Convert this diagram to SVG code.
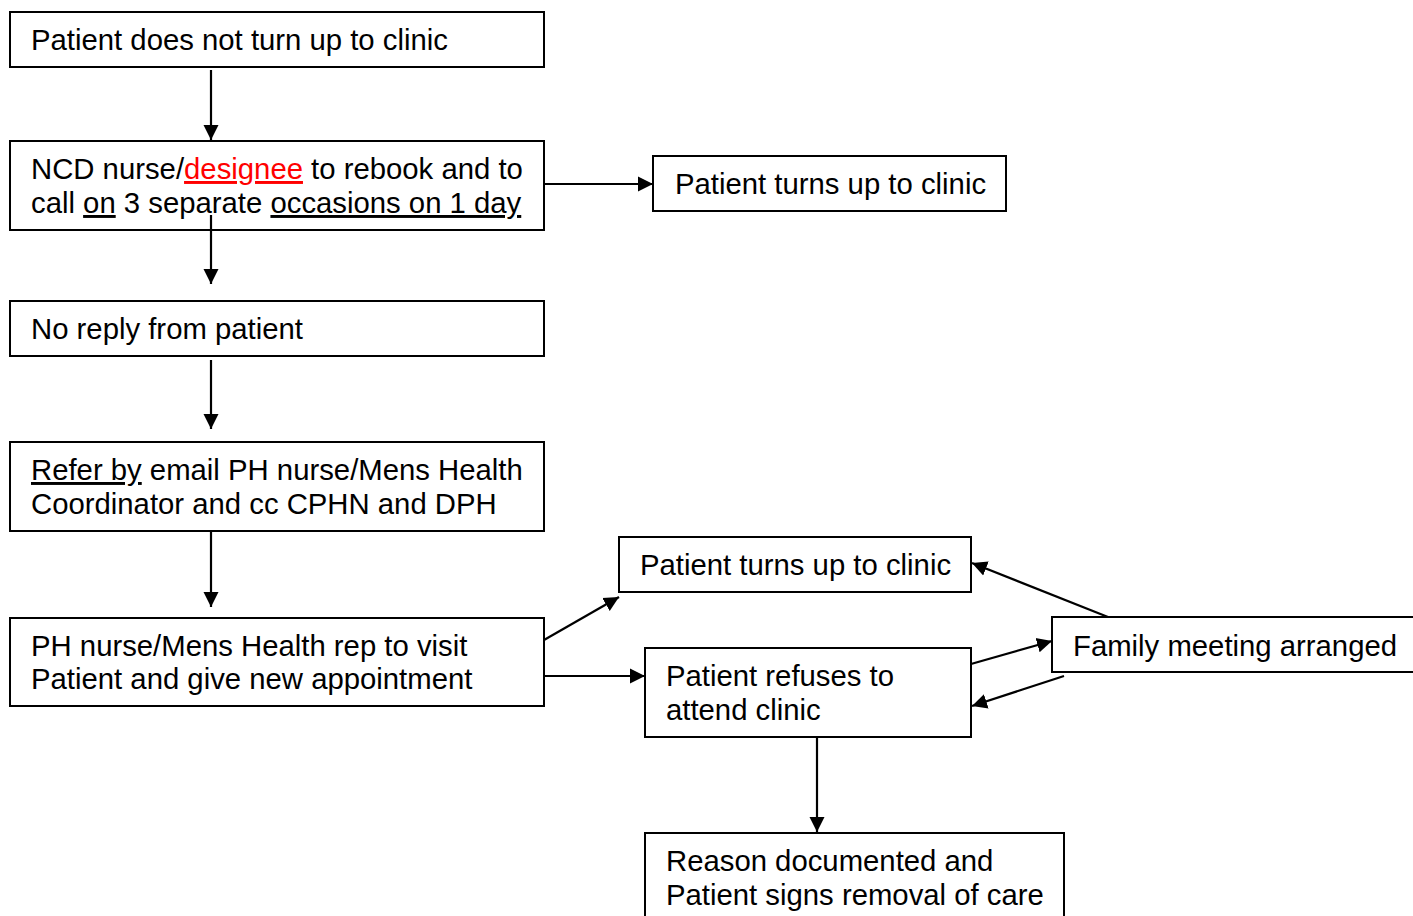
<svg xmlns="http://www.w3.org/2000/svg" width="1413" height="916" viewBox="0 0 1413 916">
<style>
.box{fill:#fff;stroke:#000;stroke-width:2}
.t{font-family:"Liberation Sans",Arial,sans-serif;font-size:29.3px;fill:#000}
.u{text-decoration:underline;text-decoration-thickness:2px}
.red{fill:#ff0000}
.c line{stroke:#000;stroke-width:2.2}
</style>
<defs>
<marker id="ah" markerUnits="userSpaceOnUse" markerWidth="16" markerHeight="16" refX="15" refY="8" orient="auto">
<path d="M0,0.5 L15,8 L0,15.5 Z" fill="#000"/>
</marker>
</defs>
<rect width="1413" height="916" fill="#fff"/>
<g id="n1"><rect class="box" x="10" y="12" width="534" height="55"/><text class="t" x="31" y="50">Patient does not turn up to clinic</text></g>
<g id="n2"><rect class="box" x="10" y="141" width="534" height="89"/><text class="t" x="31" y="179">NCD nurse/<tspan class="u red">designee</tspan> to rebook and to</text><text class="t" x="31" y="213">call <tspan class="u">on</tspan> 3 separate <tspan class="u">occasions on 1 day</tspan></text></g>
<g id="n3"><rect class="box" x="653" y="156" width="353" height="55"/><text class="t" x="675" y="194">Patient turns up to clinic</text></g>
<g id="n4"><rect class="box" x="10" y="301" width="534" height="55"/><text class="t" x="31" y="339">No reply from patient</text></g>
<g id="n5"><rect class="box" x="10" y="442" width="534" height="89"/><text class="t" x="31" y="480"><tspan class="u">Refer by</tspan> email PH nurse/Mens Health</text><text class="t" x="31" y="514">Coordinator and cc CPHN and DPH</text></g>
<g id="n6"><rect class="box" x="10" y="618" width="534" height="88"/><text class="t" x="31" y="656">PH nurse/Mens Health rep to visit</text><text class="t" x="31" y="689">Patient and give new appointment</text></g>
<g id="n7"><rect class="box" x="619" y="537" width="352" height="55"/><text class="t" x="640" y="575">Patient turns up to clinic</text></g>
<g id="n8"><rect class="box" x="645" y="648" width="326" height="89"/><text class="t" x="666" y="686">Patient refuses to</text><text class="t" x="666" y="720">attend clinic</text></g>
<g id="n9"><rect class="box" x="1052" y="617" width="370" height="55"/><text class="t" x="1073" y="656">Family meeting arranged</text></g>
<g id="n10"><rect class="box" x="645" y="833" width="419" height="100"/><text class="t" x="666" y="871">Reason documented and</text><text class="t" x="666" y="905">Patient signs removal of care</text></g>
<g id="connectors" class="c">
<line x1="211" y1="70" x2="211" y2="140" marker-end="url(#ah)"/>
<line x1="544" y1="184" x2="653" y2="184" marker-end="url(#ah)"/>
<line x1="211" y1="215" x2="211" y2="284" marker-end="url(#ah)"/>
<line x1="211" y1="360" x2="211" y2="429" marker-end="url(#ah)"/>
<line x1="211" y1="531" x2="211" y2="607" marker-end="url(#ah)"/>
<line x1="544" y1="640" x2="619" y2="597" marker-end="url(#ah)"/>
<line x1="544" y1="676" x2="645" y2="676" marker-end="url(#ah)"/>
<line x1="1108" y1="617" x2="972" y2="563" marker-end="url(#ah)"/>
<line x1="971" y1="664" x2="1052" y2="641" marker-end="url(#ah)"/>
<line x1="1064" y1="676" x2="972" y2="706" marker-end="url(#ah)"/>
<line x1="817" y1="737" x2="817" y2="832" marker-end="url(#ah)"/>
</g>
</svg>
